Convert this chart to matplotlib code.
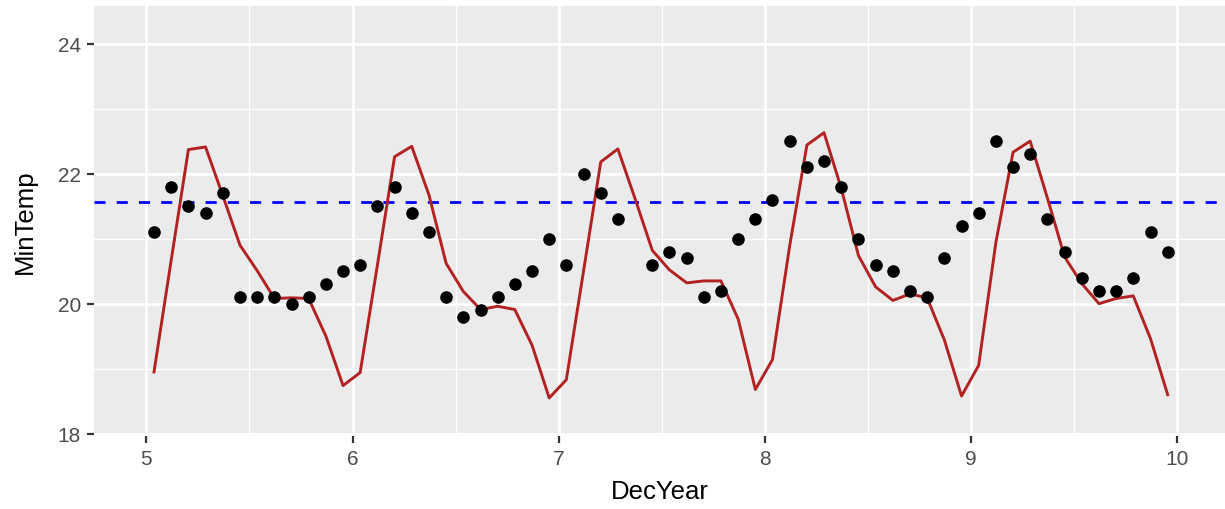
#!/usr/bin/env python3
"""Monthly minimum temperature with a fitted seasonal curve and a reference level."""

import numpy as np
import matplotlib.pyplot as plt

# decimal year of each monthly observation (mid-month)
DEC_YEAR = [
    5.037, 5.121, 5.204, 5.287, 5.371, 5.454, 5.537, 5.621, 5.704, 5.787, 5.871, 5.954,
    6.037, 6.121, 6.204, 6.287, 6.371, 6.454, 6.537, 6.621, 6.704, 6.787, 6.871, 6.954,
    7.037, 7.121, 7.204, 7.287, 7.371, 7.454, 7.537, 7.621, 7.704, 7.787, 7.871, 7.954,
    8.037, 8.121, 8.204, 8.287, 8.371, 8.454, 8.537, 8.621, 8.704, 8.787, 8.871, 8.954,
    9.037, 9.121, 9.204, 9.287, 9.371, 9.454, 9.537, 9.621, 9.704, 9.787, 9.871, 9.954,
]

# observed minimum temperature (one month missing)
MIN_TEMP = [
    21.1, 21.8, 21.5, 21.4, 21.7, 20.1, 20.1, 20.1, 20.0, 20.1, 20.3, 20.5,
    20.6, 21.5, 21.8, 21.4, 21.1, 20.1, 19.8, 19.9, 20.1, 20.3, 20.5, 21.0,
    20.6, 22.0, 21.7, 21.3, np.nan, 20.6, 20.8, 20.7, 20.1, 20.2, 21.0, 21.3,
    21.6, 22.5, 22.1, 22.2, 21.8, 21.0, 20.6, 20.5, 20.2, 20.1, 20.7, 21.2,
    21.4, 22.5, 22.1, 22.3, 21.3, 20.8, 20.4, 20.2, 20.2, 20.4, 21.1, 20.8,
]

# fitted values
FITTED = [
    18.95, 20.68, 22.37, 22.41, 21.66, 20.90, 20.51, 20.08, 20.09, 20.08, 19.50, 18.74,
    18.94, 20.60, 22.26, 22.42, 21.67, 20.62, 20.19, 19.91, 19.96, 19.91, 19.36, 18.55,
    18.83, 20.51, 22.18, 22.38, 21.61, 20.82, 20.52, 20.32, 20.35, 20.35, 19.76, 18.68,
    19.14, 20.90, 22.44, 22.63, 21.77, 20.74, 20.26, 20.05, 20.15, 20.09, 19.44, 18.58,
    19.05, 20.95, 22.33, 22.50, 21.62, 20.72, 20.31, 20.00, 20.08, 20.12, 19.46, 18.60,
]

REF_LEVEL = 21.565

X_TICKS = [5, 6, 7, 8, 9, 10]
Y_TICKS = [18, 20, 22, 24]


def main():
    plt.rcParams["font.family"] = ["Liberation Sans", "DejaVu Sans"]

    fig = plt.figure(figsize=(12.25, 5.1), dpi=100)
    ax = fig.add_axes([94 / 1225, 1 - 437 / 510, 1 - 94 / 1225, 430 / 510])

    ax.set_facecolor("#EBEBEB")
    for s in ax.spines.values():
        s.set_visible(False)

    ax.set_xlim(4.746, 10.232)
    ax.set_ylim(17.965, 24.578)

    ax.set_xticks(X_TICKS)
    ax.set_yticks(Y_TICKS)
    ax.set_xticks([5.5, 6.5, 7.5, 8.5, 9.5], minor=True)
    ax.set_yticks([19, 21, 23], minor=True)
    ax.grid(which="major", color="white", linewidth=1.9)
    ax.grid(which="minor", color="white", linewidth=0.95)
    ax.set_axisbelow(True)

    ax.tick_params(which="major", length=5, width=1.6, color="#333333",
                   labelsize=15, labelcolor="#4D4D4D", pad=4.5)
    ax.tick_params(which="minor", length=0)

    ax.axhline(REF_LEVEL, color="blue", linewidth=2.0, dashes=(4, 4), zorder=2)
    ax.plot(DEC_YEAR, FITTED, color="firebrick", linewidth=2.1, zorder=3)
    ax.scatter(DEC_YEAR, MIN_TEMP, s=82, color="black", linewidths=0, zorder=4)

    ax.set_xlabel("DecYear", fontsize=18.5, color="black", labelpad=8)
    ax.set_ylabel("MinTemp", fontsize=18.5, color="black", labelpad=15)

    fig.savefig("out.png", dpi=100)


if __name__ == "__main__":
    main()
